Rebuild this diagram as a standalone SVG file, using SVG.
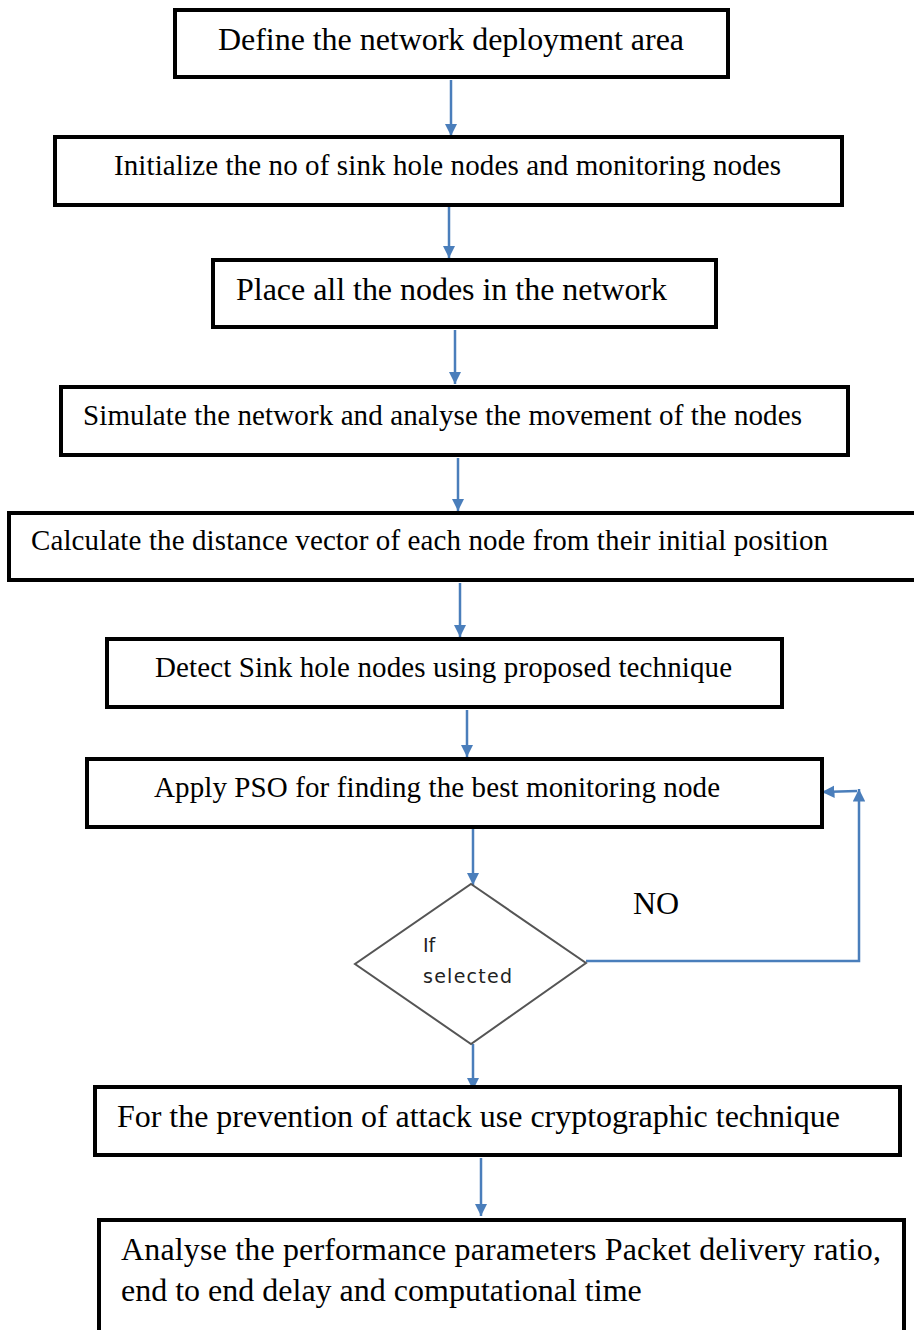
<svg xmlns="http://www.w3.org/2000/svg" width="914" height="1330" viewBox="0 0 914 1330">
  <defs>
    <marker id="arrow" viewBox="0 0 10 10" refX="10" refY="5" markerWidth="5" markerHeight="5" orient="auto" markerUnits="strokeWidth">
      <path d="M0,0 L10,5 L0,10 z" fill="#4a7ebb"/>
    </marker>
    <style>
      .box { fill: #fff; stroke: #000; stroke-width: 4; }
      .lbl { font-family: "Liberation Serif", "Times New Roman", serif; fill: #000; font-size: 29px; }
      .big { font-size: 32px; }
      .conn { fill: none; stroke: #4a7ebb; stroke-width: 2.5; }
      .dec { fill: #fff; stroke: #555; stroke-width: 2; }
      .dlbl { font-family: "DejaVu Sans", "Open Sans", sans-serif; font-size: 19px; fill: #222; }
    </style>
  </defs>
  <rect width="914" height="1330" fill="#fff"/>

  <g id="connectors">
    <line class="conn" x1="451" y1="80" x2="451" y2="136" marker-end="url(#arrow)"/>
    <line class="conn" x1="449" y1="207" x2="449" y2="258" marker-end="url(#arrow)"/>
    <line class="conn" x1="455" y1="330" x2="455" y2="384" marker-end="url(#arrow)"/>
    <line class="conn" x1="458" y1="458" x2="458" y2="511" marker-end="url(#arrow)"/>
    <line class="conn" x1="460" y1="583" x2="460" y2="637" marker-end="url(#arrow)"/>
    <line class="conn" x1="467" y1="710" x2="467" y2="757" marker-end="url(#arrow)"/>
    <line class="conn" x1="473" y1="829" x2="473" y2="885" marker-end="url(#arrow)"/>
    <line class="conn" x1="473" y1="1044" x2="473" y2="1090" marker-end="url(#arrow)"/>
    <line class="conn" x1="481" y1="1158" x2="481" y2="1216" marker-end="url(#arrow)"/>
    <polyline class="conn" points="586,961 859,961 859,789" marker-end="url(#arrow)"/>
    <line class="conn" x1="857" y1="791" x2="822" y2="792" marker-end="url(#arrow)"/>
  </g>

  <g id="n1">
    <rect class="box" x="175" y="10" width="553" height="67"/>
    <text class="lbl big" x="218" y="50" textLength="466">Define the network deployment area</text>
  </g>
  <g id="n2">
    <rect class="box" x="55" y="137" width="787" height="68"/>
    <text class="lbl" x="114" y="175" textLength="667">Initialize the no of sink hole nodes and monitoring nodes</text>
  </g>
  <g id="n3">
    <rect class="box" x="213" y="260" width="503" height="67"/>
    <text class="lbl big" x="236" y="300" textLength="431">Place all the nodes in the network</text>
  </g>
  <g id="n4">
    <rect class="box" x="61" y="387" width="787" height="68"/>
    <text class="lbl" x="83" y="425" textLength="719">Simulate the network and analyse the movement of the nodes</text>
  </g>
  <g id="n5">
    <rect class="box" x="9" y="513" width="920" height="67"/>
    <text class="lbl" x="31" y="550" textLength="797">Calculate the distance vector of each node from their initial position</text>
  </g>
  <g id="n6">
    <rect class="box" x="107" y="639" width="675" height="68"/>
    <text class="lbl" x="155" y="677" textLength="577">Detect Sink hole nodes using proposed technique</text>
  </g>
  <g id="n7">
    <rect class="box" x="87" y="759" width="735" height="68"/>
    <text class="lbl" x="154" y="797" textLength="566">Apply PSO for finding the best monitoring node</text>
  </g>
  <g id="n8">
    <polygon class="dec" points="471,884 586,963 471,1044 355,964"/>
    <text class="dlbl" x="423" y="952">If</text>
    <text class="dlbl" x="423" y="983" textLength="89">selected</text>
  </g>
  <g id="no-label">
    <text class="lbl big" x="633" y="914">NO</text>
  </g>
  <g id="n9">
    <rect class="box" x="95" y="1087" width="805" height="68"/>
    <text class="lbl big" x="117" y="1127" textLength="723">For the prevention of attack use cryptographic technique</text>
  </g>
  <g id="n10">
    <rect class="box" x="99" y="1220" width="805" height="130"/>
    <text class="lbl big" x="121" y="1260" textLength="760">Analyse the performance parameters Packet delivery ratio,</text>
    <text class="lbl big" x="121" y="1301">end to end delay and computational time</text>
  </g>
</svg>
